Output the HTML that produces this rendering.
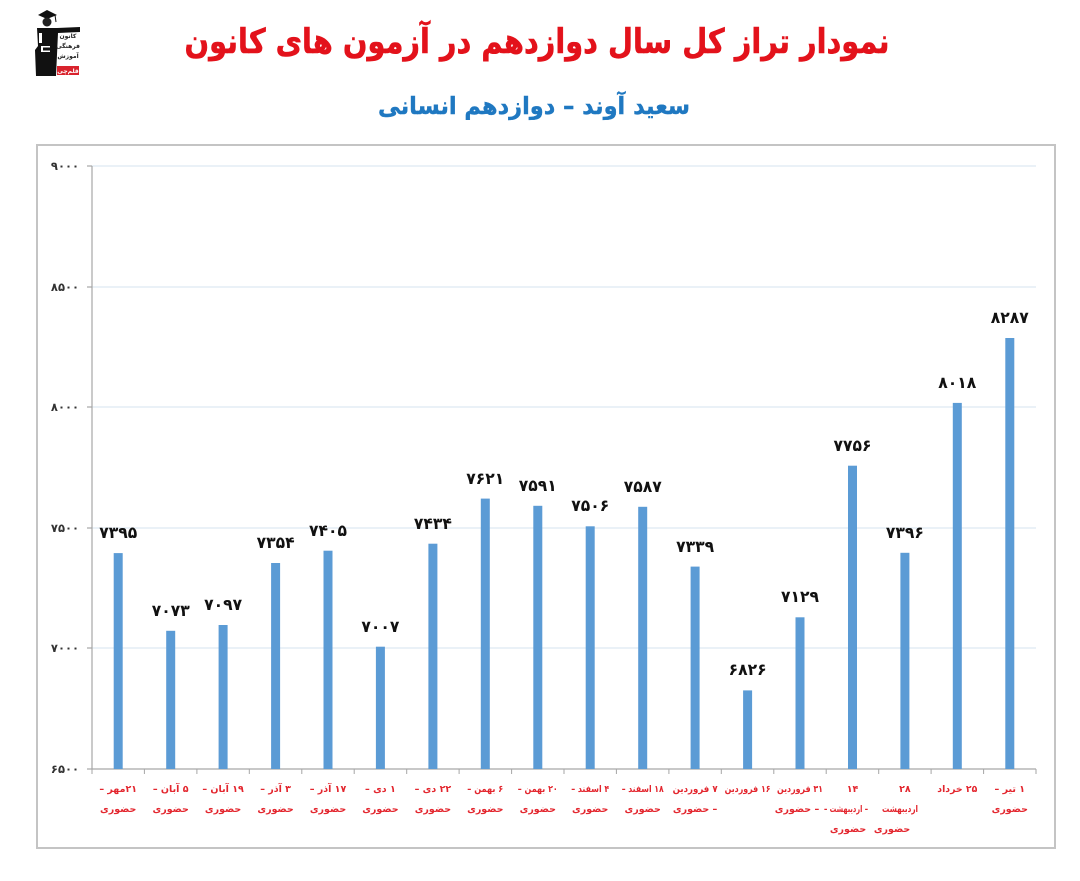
<!DOCTYPE html>
<html>
<head>
<meta charset="utf-8">
<style>
html,body{margin:0;padding:0;background:#fff;}
body{width:1080px;height:881px;overflow:hidden;}
svg{display:block;}
.fa{font-family:"DejaVu Sans","Liberation Sans",sans-serif;font-weight:bold;}
</style>
</head>
<body>
<svg width="1080" height="881" viewBox="0 0 1080 881" xmlns="http://www.w3.org/2000/svg">
  <rect x="0" y="0" width="1080" height="881" fill="#ffffff"/>

  <!-- Logo -->
  <g>
    <polygon points="38,15 47,10 57,15 47,19" fill="#111"/>
    <line x1="55" y1="15" x2="56" y2="22" stroke="#111" stroke-width="1"/>
    <circle cx="47" cy="22" r="4.5" fill="#222"/>
    <polygon points="37,28 57,28 80,27 80,32 58,33 56,76 36,76 35,50 38,46" fill="#111"/>
    <rect x="39" y="33" width="3" height="10" fill="#fff"/>
    <rect x="41" y="46" width="9" height="6" fill="#fff"/>
    <rect x="43" y="47.5" width="7" height="3" fill="#111"/>
    <text x="68" y="38" class="fa" font-size="6" fill="#222" text-anchor="middle" direction="rtl">کانون</text>
    <text x="68" y="48" class="fa" font-size="6" fill="#222" text-anchor="middle" direction="rtl">فرهنگی</text>
    <text x="68" y="58" class="fa" font-size="6" fill="#222" text-anchor="middle" direction="rtl">آموزش</text>
    <rect x="57" y="66" width="22" height="9" fill="#d9232d"/>
    <text x="68" y="73" class="fa" font-size="6" fill="#fff" text-anchor="middle" direction="rtl">قلم‌چی</text>
  </g>

  <!-- Title -->
  <text x="537" y="53" class="fa" font-size="34" fill="#e3121b" stroke="#e3121b" stroke-width="0.6" text-anchor="middle" direction="rtl" textLength="705" lengthAdjust="spacingAndGlyphs">نمودار تراز کل سال دوازدهم در آزمون های کانون</text>
  <text x="534" y="114" class="fa" font-size="24" fill="#1f78c1" stroke="#1f78c1" stroke-width="0.4" text-anchor="middle" direction="rtl" textLength="312" lengthAdjust="spacingAndGlyphs">سعید آوند – دوازدهم انسانی</text>

  <!-- Chart frame -->
  <rect x="37" y="145" width="1018" height="703" fill="#fff" stroke="#c4c4c4" stroke-width="2"/>

  <!-- gridlines -->
  <g stroke="#d6e3ef" stroke-width="1">
    <line x1="92" y1="166" x2="1036" y2="166"/>
    <line x1="92" y1="287" x2="1036" y2="287"/>
    <line x1="92" y1="407" x2="1036" y2="407"/>
    <line x1="92" y1="528" x2="1036" y2="528"/>
    <line x1="92" y1="648" x2="1036" y2="648"/>
  </g>

  <!-- axes -->
  <g stroke="#a6a6a6" stroke-width="1.2">
    <line x1="92" y1="166" x2="92" y2="769"/>
    <line x1="92" y1="769" x2="1036" y2="769"/>
    <line x1="87" y1="166" x2="92" y2="166"/>
    <line x1="87" y1="287" x2="92" y2="287"/>
    <line x1="87" y1="407" x2="92" y2="407"/>
    <line x1="87" y1="528" x2="92" y2="528"/>
    <line x1="87" y1="648" x2="92" y2="648"/>
    <line x1="87" y1="769" x2="92" y2="769"/>
  </g>
  <g stroke="#a6a6a6" stroke-width="1">
    <line x1="92" y1="769" x2="92" y2="774"/>
    <line x1="144.4" y1="769" x2="144.4" y2="774"/>
    <line x1="196.9" y1="769" x2="196.9" y2="774"/>
    <line x1="249.3" y1="769" x2="249.3" y2="774"/>
    <line x1="301.8" y1="769" x2="301.8" y2="774"/>
    <line x1="354.2" y1="769" x2="354.2" y2="774"/>
    <line x1="406.7" y1="769" x2="406.7" y2="774"/>
    <line x1="459.1" y1="769" x2="459.1" y2="774"/>
    <line x1="511.6" y1="769" x2="511.6" y2="774"/>
    <line x1="564" y1="769" x2="564" y2="774"/>
    <line x1="616.4" y1="769" x2="616.4" y2="774"/>
    <line x1="668.9" y1="769" x2="668.9" y2="774"/>
    <line x1="721.3" y1="769" x2="721.3" y2="774"/>
    <line x1="773.8" y1="769" x2="773.8" y2="774"/>
    <line x1="826.2" y1="769" x2="826.2" y2="774"/>
    <line x1="878.7" y1="769" x2="878.7" y2="774"/>
    <line x1="931.1" y1="769" x2="931.1" y2="774"/>
    <line x1="983.6" y1="769" x2="983.6" y2="774"/>
    <line x1="1036" y1="769" x2="1036" y2="774"/>
  </g>

  <!-- y labels -->
  <g class="fa" font-size="11.5" fill="#333" text-anchor="end">
    <text x="79" y="170">۹۰۰۰</text>
    <text x="79" y="291">۸۵۰۰</text>
    <text x="79" y="411">۸۰۰۰</text>
    <text x="79" y="532">۷۵۰۰</text>
    <text x="79" y="652">۷۰۰۰</text>
    <text x="79" y="773">۶۵۰۰</text>
  </g>

  <!-- bars -->
  <g fill="#5b9bd5">
    <rect x="113.7" y="553.1" width="9" height="215.9"/>
    <rect x="166.2" y="630.8" width="9" height="138.2"/>
    <rect x="218.6" y="625.0" width="9" height="144.0"/>
    <rect x="271.1" y="563.0" width="9" height="206.0"/>
    <rect x="323.5" y="550.7" width="9" height="218.3"/>
    <rect x="375.9" y="646.7" width="9" height="122.3"/>
    <rect x="428.4" y="543.7" width="9" height="225.3"/>
    <rect x="480.8" y="498.6" width="9" height="270.4"/>
    <rect x="533.3" y="505.8" width="9" height="263.2"/>
    <rect x="585.7" y="526.3" width="9" height="242.7"/>
    <rect x="638.2" y="506.8" width="9" height="262.2"/>
    <rect x="690.6" y="566.6" width="9" height="202.4"/>
    <rect x="743.1" y="690.4" width="9" height="78.6"/>
    <rect x="795.5" y="617.3" width="9" height="151.7"/>
    <rect x="848.0" y="465.7" width="9" height="303.3"/>
    <rect x="900.4" y="552.8" width="9" height="216.2"/>
    <rect x="952.8" y="402.9" width="9" height="366.1"/>
    <rect x="1005.3" y="338.0" width="9" height="431.0"/>
  </g>

  <!-- value labels -->
  <g class="fa" font-size="16" fill="#111" text-anchor="middle">
    <text x="118.2" y="538" textLength="38" lengthAdjust="spacingAndGlyphs">۷۳۹۵</text>
    <text x="170.7" y="616" textLength="38" lengthAdjust="spacingAndGlyphs">۷۰۷۳</text>
    <text x="223.1" y="610" textLength="38" lengthAdjust="spacingAndGlyphs">۷۰۹۷</text>
    <text x="275.6" y="548" textLength="38" lengthAdjust="spacingAndGlyphs">۷۳۵۴</text>
    <text x="328.0" y="536" textLength="38" lengthAdjust="spacingAndGlyphs">۷۴۰۵</text>
    <text x="380.4" y="632" textLength="38" lengthAdjust="spacingAndGlyphs">۷۰۰۷</text>
    <text x="432.9" y="529" textLength="38" lengthAdjust="spacingAndGlyphs">۷۴۳۴</text>
    <text x="485.3" y="484" textLength="38" lengthAdjust="spacingAndGlyphs">۷۶۲۱</text>
    <text x="537.8" y="491" textLength="38" lengthAdjust="spacingAndGlyphs">۷۵۹۱</text>
    <text x="590.2" y="511" textLength="38" lengthAdjust="spacingAndGlyphs">۷۵۰۶</text>
    <text x="642.7" y="492" textLength="38" lengthAdjust="spacingAndGlyphs">۷۵۸۷</text>
    <text x="695.1" y="552" textLength="38" lengthAdjust="spacingAndGlyphs">۷۳۳۹</text>
    <text x="747.6" y="675" textLength="38" lengthAdjust="spacingAndGlyphs">۶۸۲۶</text>
    <text x="800.0" y="602" textLength="38" lengthAdjust="spacingAndGlyphs">۷۱۲۹</text>
    <text x="852.5" y="451" textLength="38" lengthAdjust="spacingAndGlyphs">۷۷۵۶</text>
    <text x="904.9" y="538" textLength="38" lengthAdjust="spacingAndGlyphs">۷۳۹۶</text>
    <text x="957.3" y="388" textLength="38" lengthAdjust="spacingAndGlyphs">۸۰۱۸</text>
    <text x="1009.8" y="323" textLength="38" lengthAdjust="spacingAndGlyphs">۸۲۸۷</text>
  </g>

  <!-- x labels -->
  <g class="fa" font-size="9.5" fill="#e3262e" text-anchor="middle" direction="rtl">
    <text x="118.2" y="792">۲۱مهر –</text><text x="118.2" y="812">حضوری</text>
    <text x="170.7" y="792">۵ آبان –</text><text x="170.7" y="812">حضوری</text>
    <text x="223.1" y="792">۱۹ آبان –</text><text x="223.1" y="812">حضوری</text>
    <text x="275.6" y="792">۳ آذر –</text><text x="275.6" y="812">حضوری</text>
    <text x="328.0" y="792">۱۷ آذر –</text><text x="328.0" y="812">حضوری</text>
    <text x="380.4" y="792">۱ دی –</text><text x="380.4" y="812">حضوری</text>
    <text x="432.9" y="792">۲۲ دی –</text><text x="432.9" y="812">حضوری</text>
    <text x="485.3" y="792" textLength="36" lengthAdjust="spacingAndGlyphs">۶ بهمن –</text><text x="485.3" y="812">حضوری</text>
    <text x="537.8" y="792" textLength="40" lengthAdjust="spacingAndGlyphs">۲۰ بهمن –</text><text x="537.8" y="812">حضوری</text>
    <text x="590.2" y="792" textLength="38" lengthAdjust="spacingAndGlyphs">۴ اسفند –</text><text x="590.2" y="812">حضوری</text>
    <text x="642.7" y="792" textLength="42" lengthAdjust="spacingAndGlyphs">۱۸ اسفند –</text><text x="642.7" y="812">حضوری</text>
    <text x="695.1" y="792" textLength="45" lengthAdjust="spacingAndGlyphs">۷ فروردین</text><text x="695.1" y="812">– حضوری</text>
    <text x="747.6" y="792" textLength="46" lengthAdjust="spacingAndGlyphs">۱۶ فروردین</text>
    <text x="800.0" y="792" textLength="46" lengthAdjust="spacingAndGlyphs">۳۱ فروردین</text><text x="797.0" y="812">– حضوری</text>
    <text x="852.5" y="792">۱۴</text><text x="846.0" y="812" textLength="44" lengthAdjust="spacingAndGlyphs">– اردیبهشت –</text><text x="848.0" y="832">حضوری</text>
    <text x="904.9" y="792">۲۸</text><text x="900.0" y="812" textLength="36" lengthAdjust="spacingAndGlyphs">اردیبهشت</text><text x="892.0" y="832">حضوری</text>
    <text x="957.3" y="792" textLength="40" lengthAdjust="spacingAndGlyphs">۲۵ خرداد</text>
    <text x="1009.8" y="792">۱ تیر –</text><text x="1009.8" y="812">حضوری</text>
  </g>
</svg>
</body>
</html>
